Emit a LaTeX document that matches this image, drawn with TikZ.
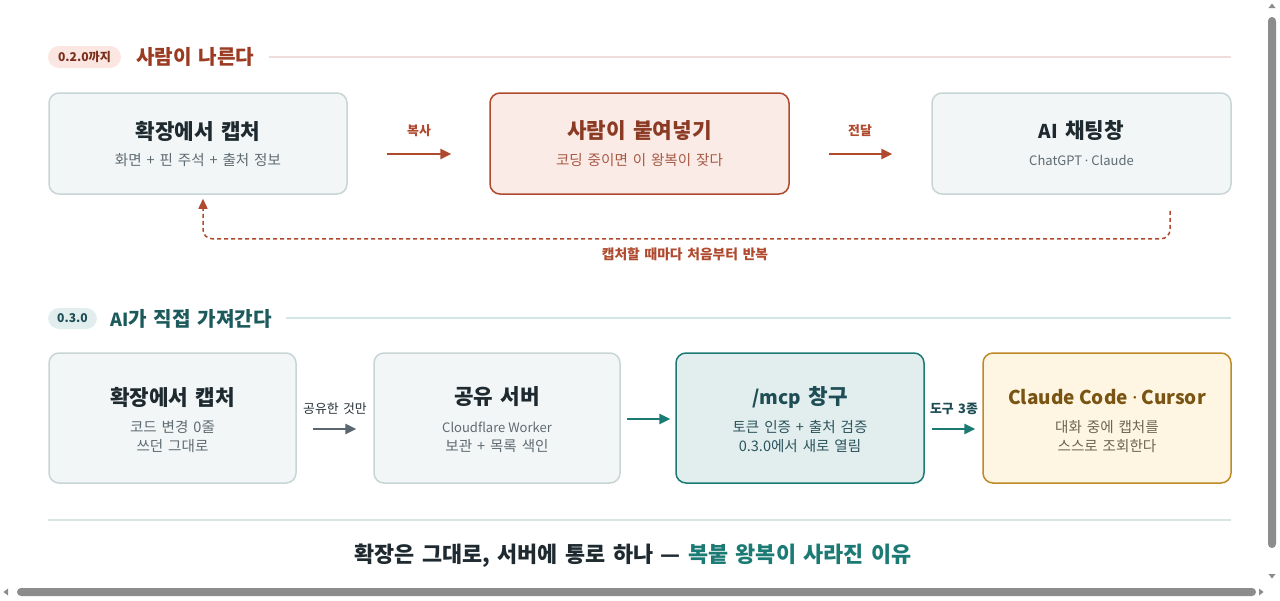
\documentclass[tikz,border=0pt]{standalone}
\usepackage{fontspec}
\setmainfont{Noto Sans CJK KR}[Scale=1.12, WordSpace=1.5]
\newfontfamily\latn{Noto Sans CJK KR}
\newfontfamily\dotf{Noto Sans}
\newcommand{\mdot}{{\dotf ·}}
\usetikzlibrary{arrows.meta,calc}
\definecolor{redacc}{HTML}{B04A2E}
\definecolor{pinkfill}{HTML}{FBEBE7}
\definecolor{redtitle}{HTML}{8B3A24}
\definecolor{redsub}{HTML}{A65A45}
\definecolor{sec1}{HTML}{9A3B22}
\definecolor{pill1}{HTML}{FBE6E1}
\definecolor{pill1txt}{HTML}{7A2E1C}
\definecolor{line1}{HTML}{EEDDDA}
\definecolor{boxborder}{HTML}{C8D5D5}
\definecolor{boxfill}{HTML}{F2F6F7}
\definecolor{darktxt}{HTML}{1E2A30}
\definecolor{subgray}{HTML}{5F6B72}
\definecolor{teal}{HTML}{1B7A74}
\definecolor{tealfill}{HTML}{E2EEEE}
\definecolor{tealdark}{HTML}{1E4D55}
\definecolor{sec2}{HTML}{1D5A5C}
\definecolor{line2}{HTML}{D3E5E5}
\definecolor{goldb}{HTML}{BF8A26}
\definecolor{goldfill}{HTML}{FEF6E2}
\definecolor{goldtitle}{HTML}{7A5412}
\definecolor{goldsub}{HTML}{6E6450}
\definecolor{grayarrow}{HTML}{5A6670}
\definecolor{sepline}{HTML}{DCE3E3}
\definecolor{scroll}{HTML}{8C8C8C}
\tikzset{
  card/.style={draw=boxborder, line width=1.5pt, fill=boxfill, rounded corners=10pt, inner sep=0pt},
  redcard/.style={card, draw=redacc, fill=pinkfill},
  tealcard/.style={card, draw=teal, fill=tealfill},
  goldcard/.style={card, draw=goldb, fill=goldfill},
  ttl/.style={font=\fontsize{19}{22}\selectfont\bfseries, text=darktxt, inner sep=0pt},
  sub/.style={font=\fontsize{13}{16}\selectfont, text=subgray, inner sep=0pt},
  lbl/.style={font=\fontsize{11.5}{14}\selectfont, inner sep=0pt},
  lblb/.style={font=\fontsize{11.5}{14}\selectfont\bfseries, inner sep=0pt},
  flow/.style={line width=2.5pt, -{Triangle[length=11pt,width=10pt]}},
  pill/.style={rounded corners=11pt, inner sep=0pt, font=\fontsize{10.8}{12}\selectfont\bfseries},
  sect/.style={font=\fontsize{18}{21}\selectfont\bfseries, anchor=west, inner sep=0pt},
}
\begin{document}
\begin{tikzpicture}[x=1pt,y=-1pt]
\useasboundingbox (0,0) rectangle (1280,600);
\fill[white] (0,0) rectangle (1280,600);

% ---------- section 1 header
\node[pill, fill=pill1, text=pill1txt, minimum width=73pt, minimum height=22pt] (p1) at (84.5,57) {0.2.0까지};
\node[sect, text=sec1] (s1) at (136,57) {사람이 나른다};
\coordinate (l1e) at (1231,57);
\draw[line1, line width=1.5pt] ([xshift=14pt]s1.east) -- (l1e);

% ---------- row 1
\node[card, minimum width=298pt, minimum height=101pt] (A) at (198,143.5) {};
\node[ttl] (At) at ($(A.center)+(0,-12.5)$) {확장에서 캡처};
\node[sub] (As) at ($(A.center)+(0,16.5)$) {화면 + 핀 주석 + 출처 정보};

\node[redcard, minimum width=299pt, minimum height=101pt] (B) at (639.5,143.5) {};
\node[ttl, text=redtitle] (Bt) at ($(B.center)+(0,-12.5)$) {사람이 붙여넣기};
\node[sub, text=redsub] (Bs) at ($(B.center)+(0,16.5)$) {코딩 중이면 이 왕복이 잦다};

\node[card, minimum width=299pt, minimum height=101pt] (C) at (1081.5,143.5) {};
\node[ttl] (Ct) at ($(C.center)+(0,-12.5)$) {{\latn AI} 채팅창};
\node[sub] (Cs) at ($(C.center)+(0,16.5)$) {\latn ChatGPT \mdot{} Claude};

\draw[flow, redacc] ([shift={(39,10.5)}]A.east) -- ([shift={(-38,10.5)}]B.west);
\node[lblb, text=redacc] (l1) at (419,131) {복사};
\draw[flow, redacc] ([shift={(39,10.5)}]B.east) -- ([shift={(-39,10.5)}]C.west);
\node[lblb, text=redacc] (l2) at (860,131) {전달};

% dashed return loop
\draw[redacc, line width=1.5pt, dash pattern=on 4pt off 3pt, rounded corners=9pt, -{Triangle[length=10pt,width=9pt]}]
  ([shift={(88.5,16)}]C.south) -- ([shift={(88.5,44)}]C.south) -- ([shift={(5,44)}]A.south) -- ([shift={(5,4)}]A.south);
\node[lblb, text=redacc, font=\fontsize{12.3}{14}\selectfont\bfseries] (loop) at (685,254) {캡처할 때마다 처음부터 반복};

% ---------- section 2 header
\node[pill, fill=tealfill, text=tealdark, minimum width=49pt, minimum height=21pt] (p2) at (72.5,318.5) {0.3.0};
\node[sect, text=sec2] (s2) at (110,319) {{\latn AI}가 직접 가져간다};
\coordinate (l2e) at (1231,318);
\draw[line2, line width=1.5pt] ([xshift=14pt]s2.east|-l2e) -- (l2e);

% ---------- row 2
\node[card, minimum width=247pt, minimum height=130pt] (D) at (172.5,418) {};
\node[ttl] (Dt) at ($(D.center)+(0,-21)$) {확장에서 캡처};
\node[sub] (Ds1) at ($(D.center)+(0,9)$) {코드 변경 0줄};
\node[sub] (Ds2) at ($(D.center)+(0,28)$) {쓰던 그대로};

\node[card, minimum width=246pt, minimum height=130pt] (E) at (497,418) {};
\node[ttl] (Et) at ($(E.center)+(0,-21)$) {공유 서버};
\node[sub] (Es1) at ($(E.center)+(0,9)$) {\latn Cloudflare Worker};
\node[sub] (Es2) at ($(E.center)+(0,28)$) {보관 + 목록 색인};

\node[tealcard, minimum width=248pt, minimum height=130pt] (F) at (800,418) {};
\node[ttl, text=tealdark] (Ft) at ($(F.center)+(0,-21)$) {{\latn /mcp} 창구};
\node[sub, text=tealdark!80!subgray] (Fs1) at ($(F.center)+(0,9)$) {토큰 인증 + 출처 검증};
\node[sub, text=tealdark!80!subgray] (Fs2) at ($(F.center)+(0,28)$) {0.3.0에서 새로 열림};

\node[goldcard, minimum width=248pt, minimum height=130pt] (G) at (1107,418) {};
\node[ttl, text=goldtitle] (Gt) at ($(G.center)+(0,-21)$) {\latn Claude Code \mdot{} Cursor};
\node[sub, text=goldsub] (Gs1) at ($(G.center)+(0,9)$) {대화 중에 캡처를};
\node[sub, text=goldsub] (Gs2) at ($(G.center)+(0,28)$) {스스로 조회한다};

\draw[flow, grayarrow, line width=2.5pt] ([shift={(16,11)}]D.east) -- ([shift={(-17,11)}]E.west);
\node[lbl, text=darktxt!85!subgray] (l3) at (335,409) {공유한 것만};
\draw[flow, teal] ([shift={(6,1)}]E.east) -- ([shift={(-5,1)}]F.west);
\draw[flow, teal] ([shift={(7,11)}]F.east) -- ([shift={(-7,11)}]G.west);
\node[lblb, text=tealdark] (l5) at (954,409) {도구 3종};

% ---------- footer
\coordinate (sepL) at (48,520);
\coordinate (sepR) at (1231,520);
\draw[sepline, line width=1.5pt] (sepL) -- (sepR);
\node[inner sep=0pt, font=\fontsize{19.5}{22}\selectfont\bfseries] (foot) at (633,556) {\textcolor{darktxt}{확장은 그대로, 서버에 통로 하나 — }\textcolor{teal}{복붙 왕복이 사라진 이유}};

% ---------- browser scrollbars
\fill[scroll, rounded corners=4pt] (1268,17) rectangle (1276,548);
\fill[scroll] (1268.5,8) -- (1275.5,8) -- (1272,3.5) -- cycle;
\fill[scroll] (1268.5,574) -- (1275.5,574) -- (1272,578.5) -- cycle;
\fill[scroll, rounded corners=4pt] (17,588) rectangle (1256,596);
\fill[scroll] (8,588.5) -- (8,595.5) -- (3.5,592) -- cycle;
\fill[scroll] (1259,588.5) -- (1259,595.5) -- (1263.5,592) -- cycle;
\end{tikzpicture}
\end{document}
